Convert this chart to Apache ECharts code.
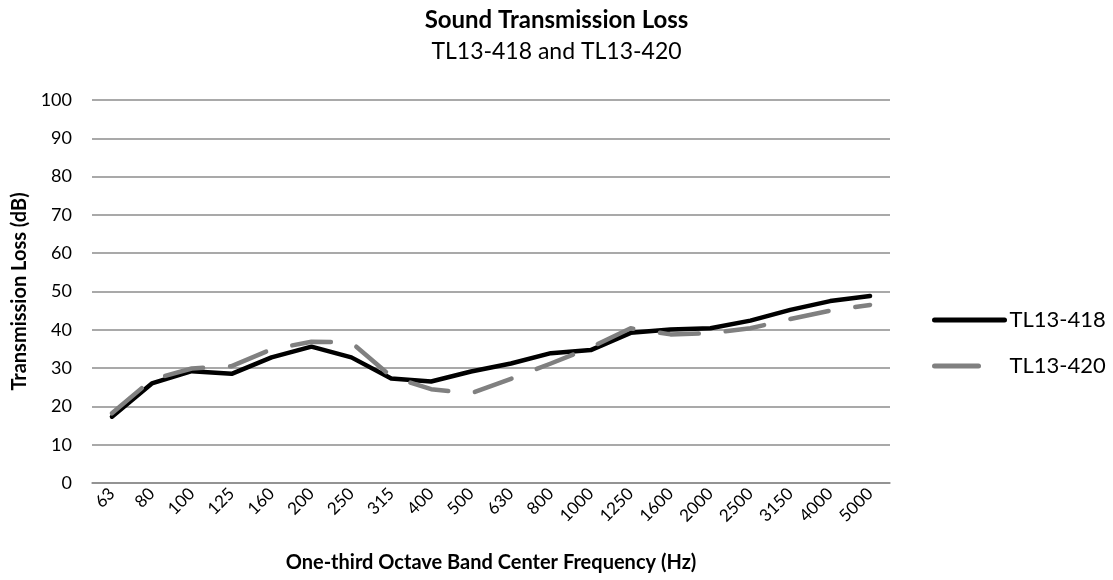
<!DOCTYPE html>
<html>
<head>
<meta charset="utf-8">
<script src="https://cdn.jsdelivr.net/npm/echarts@6/dist/echarts.min.js"></script>
<style>
html,body{margin:0;padding:0;background:#fff;}
#main{width:1113px;height:580px;}
</style>
</head>
<body>
<div id="main"></div>
<script>
// 频率分类
var freqs = ['63','80','100','125','160','200','250','315','400','500','630','800','1000','1250','1600','2000','2500','3150','4000','5000'];
// 两组隔声量数据 (dB)
var tl418 = [17.3,26.0,29.2,28.5,32.8,35.6,32.8,27.3,26.5,29.1,31.2,33.9,34.7,39.2,40.1,40.4,42.4,45.2,47.5,48.8];
var tl420 = [18.2,27.0,29.9,30.5,34.9,36.9,36.7,27.8,24.5,23.4,27.2,31.2,35.4,40.4,38.8,39.1,40.4,42.8,45.0,46.5];
var yTicks = [0,10,20,30,40,50,60,70,80,90,100];

var font = 'Lato, "Open Sans", sans-serif';
var chart = echarts.init(document.getElementById('main'));
var option = {
	animation:false,
	title:{
		text:'Sound Transmission Loss',
		subtext:'TL13-418 and TL13-420',
		left:'center',
		top:8,
		padding:0,
		itemGap:8,
		textStyle:{fontFamily:font,fontWeight:'bold',fontSize:24,color:'#000'},
		subtextStyle:{fontFamily:font,fontSize:23,color:'#000'}
	},
	legend:{
		orient:'vertical',
		left:932,
		top:309,
		padding:0,
		itemWidth:70,
		itemHeight:22,
		itemGap:24,
		itemStyle:{opacity:0},
		lineStyle:{width:5,cap:'round'},
		textStyle:{fontFamily:font,fontSize:22,color:'#000'},
		data:[
			{name:'TL13-418'},
			{name:'TL13-420',lineStyle:{type:[44,60]}}
		]
	},
	grid:{
		left:92,
		right:223,
		top:100,
		bottom:97
	},
	xAxis:{
		type:'category',
		data:freqs,
		name:'One-third Octave Band Center Frequency (Hz)',
		nameLocation:'middle',
		nameGap:70,
		nameTextStyle:{fontFamily:font,fontWeight:'bold',fontSize:20,color:'#000'},
		axisLine:{lineStyle:{color:'#8c8c8c',width:1.5}},
		axisTick:{length:6,lineStyle:{color:'#8c8c8c',width:1.5}},
		axisLabel:{rotate:45,margin:8,fontFamily:font,fontSize:17,color:'#000'}
	},
	yAxis:{
		type:'value',
		min:yTicks[0],
		max:yTicks[yTicks.length-1],
		interval:10,
		name:'Transmission Loss (dB)',
		nameLocation:'middle',
		nameGap:62,
		nameTextStyle:{fontFamily:font,fontWeight:'bold',fontSize:20,color:'#000'},
		axisLine:{show:false},
		axisTick:{show:false},
		axisLabel:{margin:20,fontFamily:font,fontSize:18,color:'#000'},
		splitLine:{lineStyle:{color:'#8c8c8c',width:1.5}}
	},
	series:[
		{
			name:'TL13-418',
			type:'line',
			data:tl418,
			symbol:'none',
			lineStyle:{color:'#000',width:4.5,cap:'round',join:'round'},
			itemStyle:{color:'#000'}
		},
		{
			name:'TL13-420',
			type:'line',
			data:tl420,
			symbol:'none',
			lineStyle:{color:'#808080',width:4.5,type:[39,27],cap:'round',join:'round'},
			itemStyle:{color:'#808080'}
		}
	]
};
chart.setOption(option);
</script>
</body>
</html>
